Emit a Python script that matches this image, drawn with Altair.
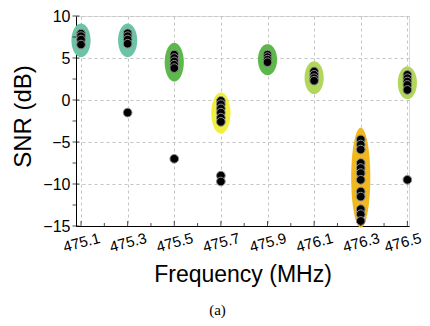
import altair as alt
import pandas as pd
import numpy as np

# ---------------- data ----------------
freqs = [475.1, 475.3, 475.5, 475.7, 475.9, 476.1, 476.3, 476.5]
snr_4751 = [7.9, 7.6, 7.2, 6.6]
snr_4753 = [7.95, 7.6, 7.2, 6.7, -1.5]
snr_4755 = [5.4, 5.0, 4.6, 4.2, 3.8, -7.0]
snr_4757 = [-0.1, -0.5, -1.0, -1.5, -2.1, -2.6, -9.0, -9.7]
snr_4759 = [5.4, 5.1, 4.8, 4.5]
snr_4761 = [3.4, 3.0, 2.6, 2.3]
snr_4763 = [-4.7, -5.3, -5.9, -7.5, -8.1, -8.7, -9.5, -10.9, -11.5, -13.0, -13.6, -14.4]
snr_4765 = [3.0, 2.6, 2.2, 1.8, 1.2, -9.5]
all_snr = [snr_4751, snr_4753, snr_4755, snr_4757, snr_4759, snr_4761, snr_4763, snr_4765]

ell_center = [7.1, 7.1, 4.5, -1.55, 4.8, 2.65, -9.25, 2.05]
ell_half = [2.0, 2.0, 2.3, 2.45, 1.85, 1.95, 5.95, 1.95]
ell_halfwidth = 0.041
ell_colors = ["#6cc4a4", "#6cc4a4", "#5db84b", "#f2ee3c", "#5db84b", "#b2d65a", "#f0b81e", "#b2d65a"]

x_major = [475.1, 475.3, 475.5, 475.7, 475.9, 476.1, 476.3, 476.5]
x_minor = [475.2, 475.4, 475.6, 475.8, 476.0, 476.2, 476.4]
y_major = [-15, -10, -5, 0, 5, 10]
y_minor = [-12.5, -7.5, -2.5, 2.5, 7.5]

W, H = 333, 210
XDOM = [475.0785, 476.507]
YDOM = [-15, 10]

# ---------------- tables ----------------
pts = pd.DataFrame(
    [{"freq": f, "snr": s, "i": k} for f, ss in zip(freqs, all_snr) for k, s in enumerate(ss)]
)

t = np.linspace(0, np.pi, 81)
ell_rows = []
for f, c, b in zip(freqs, ell_center, ell_half):
    for tt in t:
        ell_rows.append({
            "grp": str(f),
            "x": f - ell_halfwidth * np.cos(tt),
            "ylo": c - b * np.sin(tt),
            "yhi": c + b * np.sin(tt),
        })
ell = pd.DataFrame(ell_rows)

xs = alt.Scale(domain=XDOM, nice=False, zero=False)
ys = alt.Scale(domain=YDOM, nice=False, zero=False)

font = "Liberation Sans"

x_axis = alt.Axis(
    values=x_major, format=".1f", grid=True, ticks=False, tickSize=0,
    gridDash=[3, 3], gridColor="#c4c4c4", gridWidth=1,
    domainColor="black", domainWidth=1,
    labelAngle=345, labelAlign="center", labelBaseline="middle",
    labelOffset={"condition": {"test": "datum.value > 476.4", "value": -5}, "value": 0},
    labelPadding=16, labelFont=font, labelFontSize=15, labelColor="black",
    title="Frequency (MHz)", titleFont=font, titleFontSize=23,
    titleFontWeight="normal", titleColor="black", titlePadding=9,
)
y_axis = alt.Axis(
    values=y_major, grid=True, ticks=False, tickSize=0,
    gridDash=[3, 3], gridColor="#c4c4c4", gridWidth=1,
    domainColor="black", domainWidth=1,
    labelPadding=6, labelFont=font, labelFontSize=16, labelColor="black",
    title="SNR (dB)", titleFont=font, titleFontSize=24,
    titleFontWeight="normal", titleColor="black",
    titleX=-53, titleY=100, titleAlign="center", titleBaseline="middle", titleAngle=270,
)

ellipses = alt.Chart(ell).mark_area(opacity=1).encode(
    x=alt.X("x:Q", scale=xs, axis=x_axis),
    y=alt.Y("ylo:Q", scale=ys, axis=y_axis),
    y2="yhi:Q",
    detail="grp:N",
    color=alt.Color("grp:N", scale=alt.Scale(domain=[str(f) for f in freqs], range=ell_colors), legend=None),
)

points = alt.Chart(pts).mark_circle(
    size=75, fill="black", stroke="#8c8c8c", strokeWidth=1, opacity=1
).encode(
    x=alt.X("freq:Q", scale=xs),
    y=alt.Y("snr:Q", scale=ys),
    order="i:Q",
)

xt_maj = alt.Chart(pd.DataFrame({"v": x_major})).mark_tick(
    orient="vertical", size=5, thickness=1, color="black", yOffset=-2.5
).encode(x=alt.X("v:Q", scale=xs), y=alt.value(H))
xt_min = alt.Chart(pd.DataFrame({"v": x_minor})).mark_tick(
    orient="vertical", size=3, thickness=1, color="black", yOffset=-1.5
).encode(x=alt.X("v:Q", scale=xs), y=alt.value(H))
yt_maj = alt.Chart(pd.DataFrame({"v": y_major})).mark_tick(
    orient="horizontal", size=7, thickness=1, color="black"
).encode(y=alt.Y("v:Q", scale=ys), x=alt.value(0))
yt_min = alt.Chart(pd.DataFrame({"v": y_minor})).mark_tick(
    orient="horizontal", size=3.5, thickness=1, color="black", xOffset=-1.75
).encode(y=alt.Y("v:Q", scale=ys), x=alt.value(0))

chart = alt.layer(ellipses, points, xt_maj, xt_min, yt_maj, yt_min).properties(
    width=W, height=H,
    autosize=alt.AutoSizeParams(type="none"),
    padding={"left": 68, "top": 8, "right": 13, "bottom": 92},
    title=alt.TitleParams(
        "(a)", orient="bottom", anchor="middle", dx=-25, offset=16,
        font="Liberation Serif", fontSize=15, fontWeight="normal", color="black",
    ),
).configure_view(stroke=None).configure(background="white")

chart.save("out.html", embed_options={"renderer": "svg", "actions": False})
